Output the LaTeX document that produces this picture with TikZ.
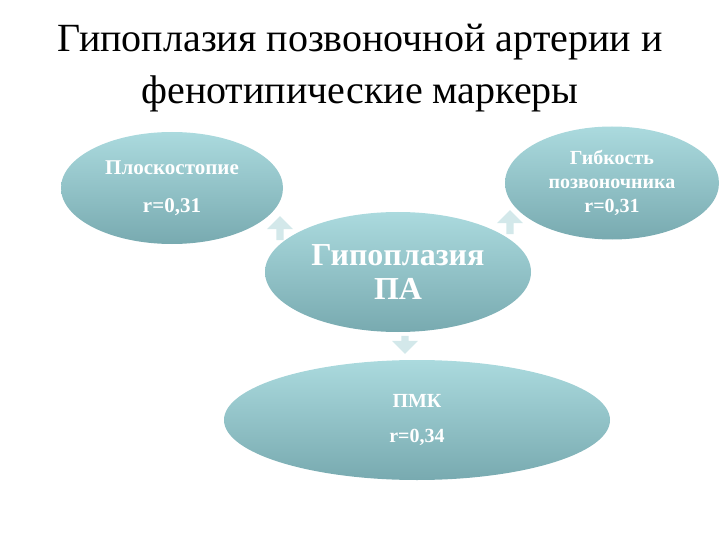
\documentclass[tikz,border=0pt]{standalone}
\usepackage{fontspec}
\setmainfont{Liberation Serif}
\usetikzlibrary{shapes.arrows,shapes.geometric}
\definecolor{tl}{HTML}{ABDADE}
\definecolor{td}{HTML}{78AAB0}
\definecolor{ar}{HTML}{D3E8EA}
\tikzset{
 el/.style={ellipse, top color=tl, bottom color=td, draw=none, text=white, font=\bfseries, align=center, inner sep=0pt},
 arr/.style={single arrow, fill=ar, draw=none, minimum height=24pt, minimum width=26pt, single arrow head extend=3pt, inner sep=1pt},
}
\begin{document}
\begin{tikzpicture}[x=1pt,y=-1pt]
\useasboundingbox (0,0) rectangle (720,540);
\node (title) at (360,68) [align=center, font=\fontsize{40}{52}\selectfont] {Гипоплазия позвоночной артерии и\\фенотипические маркеры};
\node (left) at (172,188) [el, minimum width=222pt, minimum height=112pt, font=\bfseries\fontsize{21}{38}\selectfont] {Плоскостопие\\r=0,31};
\node (right) at (612,183) [el, minimum width=214pt, minimum height=113pt, font=\bfseries\fontsize{20}{24}\selectfont] {Гибкость\\позвоночника\\r=0,31};
\node (center) at (398,272) [el, minimum width=266pt, minimum height=120pt, font=\bfseries\fontsize{32}{34}\selectfont] {Гипоплазия\\ПА};
\node (bottom) at (417,420) [el, minimum width=386pt, minimum height=120pt, font=\bfseries\fontsize{20}{35}\selectfont] {ПМК\\r=0,34};
\node (a1) at (280,230) [arr, shape border rotate=125] {};
\node (a2) at (510,224) [arr, shape border rotate=55] {};
\node (a3) at (405,343) [arr, shape border rotate=270, minimum height=18pt] {};
\end{tikzpicture}
\end{document}
